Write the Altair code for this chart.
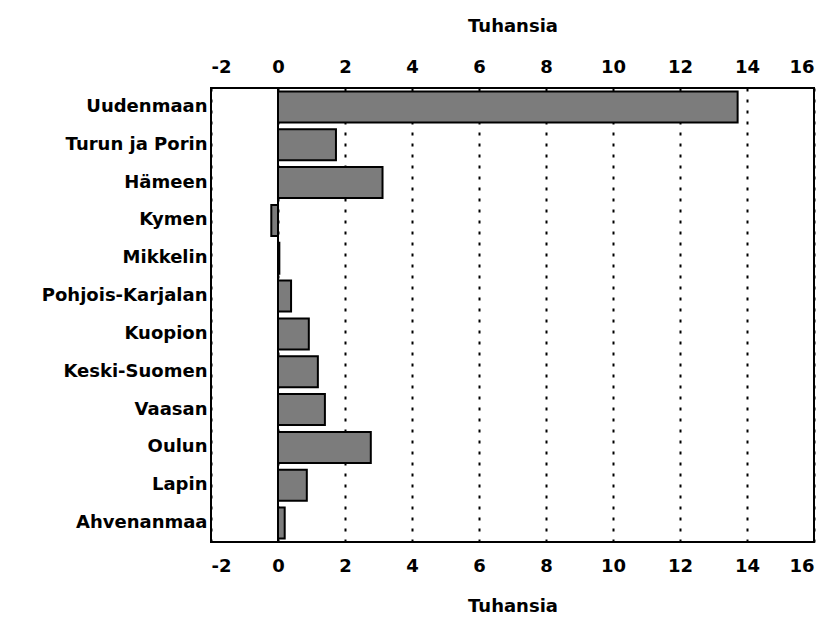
import altair as alt
import pandas as pd

regions = ["Uudenmaan", "Turun ja Porin", "Hämeen", "Kymen", "Mikkelin",
           "Pohjois-Karjalan", "Kuopion", "Keski-Suomen", "Vaasan", "Oulun",
           "Lapin", "Ahvenanmaa"]
values = [13.72, 1.73, 3.12, -0.2, 0.04, 0.39, 0.92, 1.19, 1.4, 2.77, 0.86, 0.2]
x_ticks = [-2, 0, 2, 4, 6, 8, 10, 12, 14, 16]
axis_title = "Tuhansia"

df = pd.DataFrame({"region": regions, "value": values, "base": [0] * len(values)})
zero_df = pd.DataFrame({"x": [0]})

FONT = "DejaVu Sans"
xscale = alt.Scale(domain=[-2, 16], nice=False, zero=False)

common_axis = dict(
    values=x_ticks, ticks=False, domain=False, title=axis_title,
    labelExpr="datum.value < 0 ? '-' + abs(datum.value) : '' + datum.value",
    labelFont=FONT, labelFontWeight="bold", labelFontSize=18, labelColor="black",
    titleFont=FONT, titleFontWeight="bold", titleFontSize=18, titleColor="black",
)

yenc = alt.Y(
    "region:N", sort=regions,
    scale=alt.Scale(paddingInner=0.18, paddingOuter=0.09),
    axis=alt.Axis(title=None, ticks=False, domain=False, labelFont=FONT,
                  labelFontWeight="bold", labelFontSize=18, labelColor="black",
                  labelPadding=4),
)

bars = alt.Chart(df).mark_bar(color="#7c7c7c", stroke="black", strokeWidth=2).encode(
    x=alt.X("value:Q", scale=xscale,
            axis=alt.Axis(orient="bottom", grid=True, gridDash=[3, 8],
                          gridColor="black", gridWidth=2, gridOpacity=1,
                          labelPadding=15, titlePadding=22, **common_axis)),
    x2="base:Q",
    y=yenc,
)

zero_line = alt.Chart(zero_df).mark_rule(color="black", strokeWidth=2).encode(
    x=alt.X("x:Q", scale=xscale,
            axis=alt.Axis(orient="top", grid=False, labelPadding=12,
                          titlePadding=23, **common_axis)),
)

chart = (
    alt.layer(bars, zero_line)
    .resolve_axis(x="independent")
    .resolve_scale(x="shared")
    .properties(width=603, height=454,
                autosize=alt.AutoSizeParams(type="none"),
                padding={"left": 203, "top": 80, "right": 8, "bottom": 82},
                background="white")
    .configure_view(stroke="black", strokeWidth=2)
)

chart.save("out.html", embed_options={"renderer": "svg", "actions": False})
